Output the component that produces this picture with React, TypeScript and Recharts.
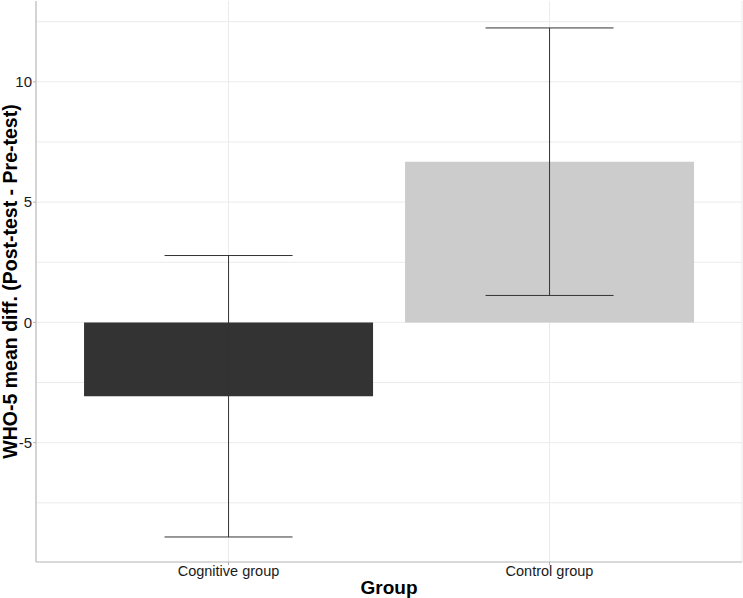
import { Bar, BarChart, CartesianGrid, Cell, ErrorBar, Label, XAxis, YAxis } from "recharts";

const groups = ["Cognitive group", "Control group"];
const meanDiff = [-3.07, 6.68];
const errorHalf = [5.85, 5.56];
const barColors = ["#333333", "#cccccc"];
const yTicks = [-5, 0, 5, 10];
const gridValues = [-7.5, -5, -2.5, 0, 2.5, 5, 7.5, 10, 12.5];

const data = groups.map((g, i) => ({ group: g, diff: meanDiff[i], err: errorHalf[i] }));

const yMin = -9.96;
const yMax = 13.36;

const font = "Liberation Sans, Arial, sans-serif";
const borderColor = "#b3b3b3";

export default function App() {
  return (
    <div style={{ position: "absolute", left: 0, top: 0 }}>
      <BarChart
        width={743}
        height={598}
        data={data}
        margin={{ top: 1, right: 1, left: 0, bottom: 0 }}
        barCategoryGap="5%"
      >
        <CartesianGrid stroke="#ebebeb" horizontalValues={gridValues} />
        <XAxis
          dataKey="group"
          height={36}
          padding={{ left: 32, right: 32 }}
          tickSize={3}
          tickMargin={1}
          axisLine={{ stroke: borderColor }}
          tickLine={{ stroke: borderColor }}
          tick={{ fill: "#1a1a1a", fontSize: 14.5, fontFamily: font }}
        >
          <Label
            value="Group"
            position="center"
            dy={7}
            style={{ fontSize: 19, fontWeight: "bold", fill: "#000", fontFamily: font }}
          />
        </XAxis>
        <XAxis xAxisId="top" orientation="top" dataKey="group" height={0} tick={false} tickLine={false} axisLine={{ stroke: borderColor }} />
        <YAxis
          type="number"
          width={36}
          domain={[yMin, yMax]}
          ticks={yTicks}
          allowDataOverflow
          tickSize={3}
          tickMargin={1}
          axisLine={{ stroke: borderColor }}
          tickLine={{ stroke: borderColor }}
          tick={{ fill: "#1a1a1a", fontSize: 15, fontFamily: font }}
        >
          <Label
            value="WHO-5 mean diff. (Post-test - Pre-test)"
            angle={-90}
            position="center"
            dx={-8}
            style={{ fontSize: 19.5, fontWeight: "bold", fill: "#000", fontFamily: font, textAnchor: "middle" }}
          />
        </YAxis>
        <YAxis yAxisId="right" orientation="right" type="number" width={0} domain={[yMin, yMax]} tick={false} tickLine={false} axisLine={{ stroke: borderColor }} />
        <Bar dataKey="diff" isAnimationActive={false}>
          {data.map((d, i) => (
            <Cell key={d.group} fill={barColors[i]} />
          ))}
          <ErrorBar dataKey="err" width={64} stroke="#333333" strokeWidth={1} />
        </Bar>
      </BarChart>
    </div>
  );
}
